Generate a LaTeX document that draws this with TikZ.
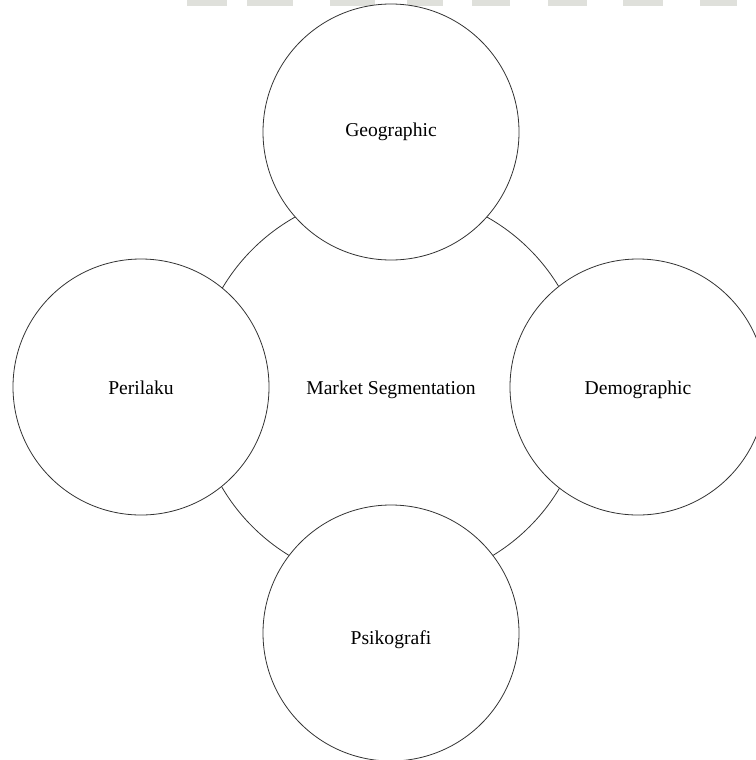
\documentclass[tikz,border=0pt]{standalone}
\usepackage{fontspec}
\setmainfont{Liberation Serif}
\definecolor{edge}{HTML}{333333}
\definecolor{bar}{HTML}{DFE0DB}
\begin{document}
\begin{tikzpicture}[x=0.75pt,y=-0.75pt,
  segment/.style={circle,draw=edge,line width=0.6pt,fill=white,inner sep=0pt,
    minimum size=256*0.75pt},
  hub/.style={circle,draw=edge,line width=0.6pt,inner sep=0pt,
    minimum size=392*0.75pt},
  caption/.style={anchor=base,inner sep=0pt,font=\fontsize{14.7}{17}\selectfont},
  topbar/.style={fill=bar,draw=none}]
\useasboundingbox (0,0) rectangle (756,760);
\clip (0,0) rectangle (756,760);
% light bars along the top edge
\foreach \a/\b in {187/227,247/293,330/375,407/443,472/510,548/587,623/663,700/737}
  \fill[topbar] (\a,0) rectangle (\b,6);
% central circle behind the four segments
\node[hub] (hub) at (391,388) {};
\node[segment] (geo) at (391,132) {};
\node[segment] (beh) at (141,387) {};
\node[segment] (dem) at (638,387) {};
\node[segment] (psy) at (391,633) {};
% labels, placed on their baselines
\node[caption] (hubtext) at (391,394) {Market Segmentation};
\node[caption] (geotext) at (391,136) {Geographic};
\node[caption] (behtext) at (141,394) {Perilaku};
\node[caption] (demtext) at (638,394) {Demographic};
\node[caption] (psytext) at (391,644) {Psikografi};
\end{tikzpicture}
\end{document}
